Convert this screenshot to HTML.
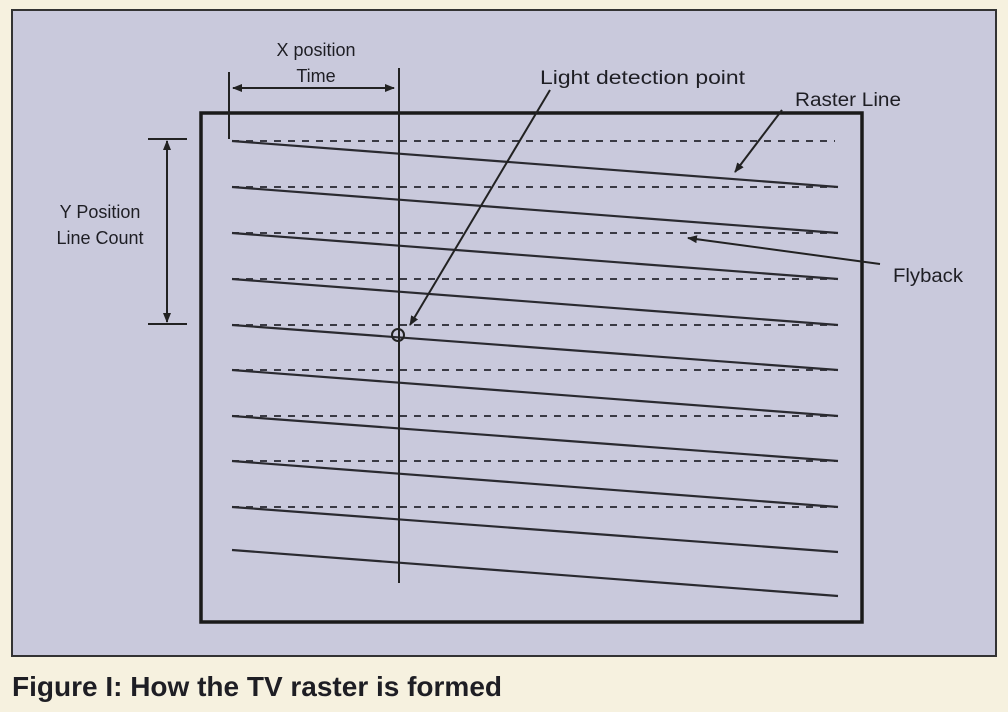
<!DOCTYPE html>
<html><head><meta charset="utf-8"><style>
html,body{margin:0;padding:0;background:#f6f1df;}
svg{display:block}
text{font-family:"Liberation Sans",sans-serif;fill:#1e1e24}
</style></head><body>
<svg width="1008" height="712" viewBox="0 0 1008 712" xmlns="http://www.w3.org/2000/svg">
<defs>
<marker id="ah" markerWidth="10" markerHeight="8" refX="9" refY="4" orient="auto" markerUnits="userSpaceOnUse">
<path d="M0,0 L10,4 L0,8 z" fill="#222"/></marker>
</defs>
<rect x="12" y="10" width="984" height="646" fill="#c9c9dc" stroke="#333" stroke-width="2"/>
<rect x="201" y="113" width="661" height="509" fill="none" stroke="#1a1a1a" stroke-width="3.5"/>
<g stroke="#3a3a44" stroke-width="2" stroke-dasharray="7,7">
<line x1="232" y1="141" x2="835" y2="141"/>
<line x1="232" y1="187" x2="835" y2="187"/>
<line x1="232" y1="233" x2="835" y2="233"/>
<line x1="232" y1="279" x2="835" y2="279"/>
<line x1="232" y1="325" x2="835" y2="325"/>
<line x1="232" y1="370" x2="835" y2="370"/>
<line x1="232" y1="416" x2="835" y2="416"/>
<line x1="232" y1="461" x2="835" y2="461"/>
<line x1="232" y1="507" x2="835" y2="507"/>
</g>
<g stroke="#2a2a30" stroke-width="2.2">
<line x1="232" y1="141" x2="838" y2="187"/>
<line x1="232" y1="187" x2="838" y2="233"/>
<line x1="232" y1="233" x2="838" y2="279"/>
<line x1="232" y1="279" x2="838" y2="325"/>
<line x1="232" y1="325" x2="838" y2="370"/>
<line x1="232" y1="370" x2="838" y2="416"/>
<line x1="232" y1="416" x2="838" y2="461"/>
<line x1="232" y1="461" x2="838" y2="507"/>
<line x1="232" y1="507" x2="838" y2="552"/>
<line x1="232" y1="550" x2="838" y2="596"/>
</g>
<g stroke="#222" stroke-width="2" fill="none">
<line x1="399" y1="68" x2="399" y2="583"/>
<line x1="229" y1="72" x2="229" y2="139"/>
<line x1="240" y1="88" x2="394" y2="88" marker-end="url(#ah)"/>
<line x1="390" y1="88" x2="233" y2="88" marker-end="url(#ah)"/>
<line x1="148" y1="139" x2="187" y2="139"/>
<line x1="148" y1="324" x2="187" y2="324"/>
<line x1="167" y1="200" x2="167" y2="141" marker-end="url(#ah)"/>
<line x1="167" y1="150" x2="167" y2="322" marker-end="url(#ah)"/>
<circle cx="398" cy="335" r="6"/>
<line x1="550" y1="90" x2="410" y2="325" marker-end="url(#ah)"/>
<line x1="782" y1="110" x2="735" y2="172" marker-end="url(#ah)"/>
<line x1="880" y1="264" x2="688" y2="238" marker-end="url(#ah)"/>
</g>
<g font-size="18">
<text x="316" y="56" text-anchor="middle">X position</text>
<text x="316" y="82" text-anchor="middle">Time</text>
<text x="540" y="84" font-size="19" textLength="205" lengthAdjust="spacingAndGlyphs">Light detection point</text>
<text x="795" y="106" font-size="19" textLength="106" lengthAdjust="spacingAndGlyphs">Raster Line</text>
<text x="100" y="218" text-anchor="middle">Y Position</text>
<text x="100" y="244" text-anchor="middle">Line Count</text>
<text x="893" y="282" font-size="19" textLength="70" lengthAdjust="spacingAndGlyphs">Flyback</text>
</g>
<text x="12" y="696" font-size="28" font-weight="bold" textLength="490" lengthAdjust="spacingAndGlyphs">Figure I: How the TV raster is formed</text>
</svg>
</body></html>
